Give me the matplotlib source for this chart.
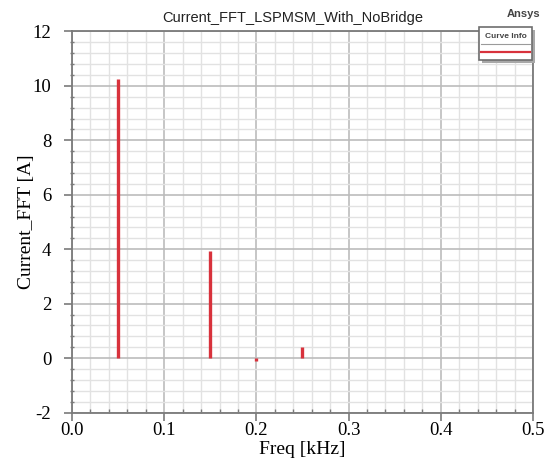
import numpy as np
import matplotlib.pyplot as plt
from matplotlib.patches import Rectangle
from matplotlib.ticker import MultipleLocator

# harmonic spectrum
freq = [0.05, 0.15, 0.20, 0.25]      # kHz
amp = [10.27, 3.94, -0.10, 0.42]     # A

xticks = [0.0, 0.1, 0.2, 0.3, 0.4, 0.5]
yticks = [-2, 0, 2, 4, 6, 8, 10, 12]

red = "#d8323c"
serif = "Liberation Serif"
sans = "Liberation Sans"

fig = plt.figure(figsize=(5.47, 4.65), dpi=100)
ax = fig.add_axes([0.1316, 0.1129, 0.8428, 0.8194])

ax.vlines(freq, 0, amp, colors=red, linewidth=2.4, zorder=3)

ax.set_xlim(0, 0.5)
ax.set_ylim(-2, 12)
ax.set_xticks(xticks)
ax.set_yticks(yticks)
ax.set_xticklabels(["%.1f" % v for v in xticks], fontfamily=serif, fontsize=13.5)
ax.set_yticklabels([str(v) for v in yticks], fontfamily=serif, fontsize=13.5)
ax.xaxis.set_minor_locator(MultipleLocator(0.02))
ax.yaxis.set_minor_locator(MultipleLocator(0.4))

ax.grid(which="major", color="#bcbcbc", linewidth=1.2, zorder=1)
ax.grid(which="minor", color="#e2e2e2", linewidth=1.0, zorder=1)
ax.set_axisbelow(True)

for s in ax.spines.values():
    s.set_color("#7a7a7a")
    s.set_linewidth(1.3)
ax.tick_params(which="major", length=6, width=1.2, color="#7a7a7a", pad=1)
ax.tick_params(axis="y", which="major", pad=9)
ax.tick_params(which="minor", length=3, width=1.0, color="#7a7a7a", direction="inout")
ax.tick_params(axis="x", which="minor", direction="in")

ax.set_xlabel("Freq [kHz]", fontfamily=serif, fontsize=14, labelpad=1)
ax.set_ylabel("Current_FFT [A]", fontfamily=serif, fontsize=14, labelpad=-2)

fig.text(0.535, 0.962, "Current_FFT_LSPMSM_With_NoBridge", fontfamily=sans,
         fontsize=10.5, ha="center", va="center", color="#222222")
fig.text(0.988, 0.97, "Ansys", fontfamily=sans, fontsize=8, fontweight="bold",
         ha="right", va="center", color="#444444")

# "Curve Info" legend box with a shadow
bx, by, bw, bh = 479 / 547, 1 - 60 / 465, 53 / 547, 33 / 465
fig.add_artist(Rectangle((bx + 0.006, by - 0.007), bw, bh, transform=fig.transFigure,
                         facecolor="#a8a8a8", edgecolor="none", zorder=5))
fig.add_artist(Rectangle((bx, by), bw, bh, transform=fig.transFigure,
                         facecolor="white", edgecolor="#6e6e6e", linewidth=1.2, zorder=6))
fig.text(bx + bw / 2, 1 - 37 / 465, "Curve Info", fontfamily=sans, fontsize=6,
         fontweight="bold", ha="center", va="center", color="#444444", zorder=7)
fig.add_artist(plt.Line2D([bx + 0.004, bx + bw - 0.004], [1 - 44 / 465] * 2,
                          transform=fig.transFigure, color="#9a9a9a", linewidth=0.8, zorder=7))
fig.add_artist(plt.Line2D([bx + 0.004, bx + bw - 0.004], [1 - 52 / 465] * 2,
                          transform=fig.transFigure, color=red, linewidth=1.6, zorder=7))

fig.savefig("out.png", dpi=100)
